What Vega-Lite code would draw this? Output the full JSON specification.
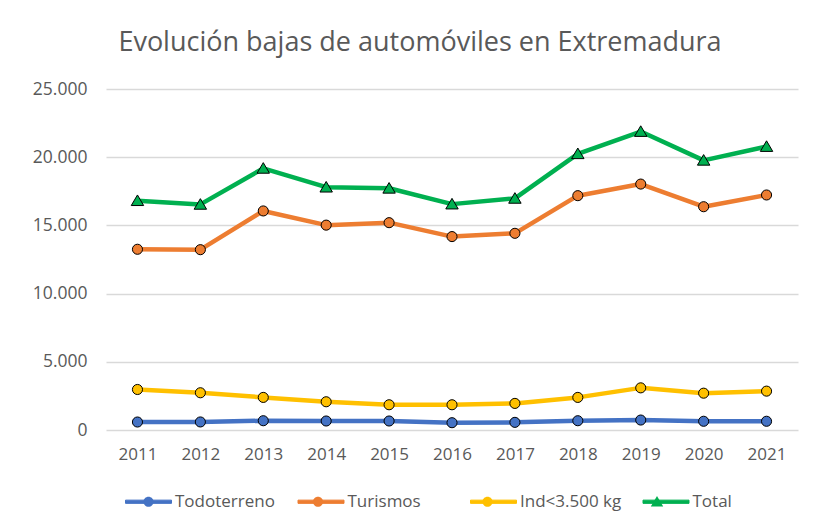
{
  "$schema": "https://vega.github.io/schema/vega-lite/v6.json",
  "width": 692,
  "height": 341,
  "autosize": {"type": "none"},
  "padding": {"left": 106, "top": 89, "right": 29, "bottom": 99},
  "background": "white",
  "title": {
    "text": "Evolución bajas de automóviles en Extremadura",
    "font": "Open Sans",
    "fontSize": 27,
    "fontWeight": 400,
    "color": "#595959",
    "anchor": "middle",
    "frame": "group",
    "dx": -32,
    "offset": 2,
    "baseline": "alphabetic"
  },
  "config": {
    "view": {"stroke": null},
    "axis": {
      "labelFont": "Open Sans",
      "labelFontSize": 17,
      "labelColor": "#595959",
      "title": null
    }
  },
  "data": {
    "values": [
      {"year": "2011", "serie": "Todoterreno", "orden": 1, "v": 585},
      {"year": "2012", "serie": "Todoterreno", "orden": 1, "v": 590},
      {"year": "2013", "serie": "Todoterreno", "orden": 1, "v": 680},
      {"year": "2014", "serie": "Todoterreno", "orden": 1, "v": 660},
      {"year": "2015", "serie": "Todoterreno", "orden": 1, "v": 660},
      {"year": "2016", "serie": "Todoterreno", "orden": 1, "v": 535},
      {"year": "2017", "serie": "Todoterreno", "orden": 1, "v": 560},
      {"year": "2018", "serie": "Todoterreno", "orden": 1, "v": 680},
      {"year": "2019", "serie": "Todoterreno", "orden": 1, "v": 730},
      {"year": "2020", "serie": "Todoterreno", "orden": 1, "v": 640},
      {"year": "2021", "serie": "Todoterreno", "orden": 1, "v": 640},
      {"year": "2011", "serie": "Turismos", "orden": 2, "v": 13250},
      {"year": "2012", "serie": "Turismos", "orden": 2, "v": 13220},
      {"year": "2013", "serie": "Turismos", "orden": 2, "v": 16060},
      {"year": "2014", "serie": "Turismos", "orden": 2, "v": 15020},
      {"year": "2015", "serie": "Turismos", "orden": 2, "v": 15200},
      {"year": "2016", "serie": "Turismos", "orden": 2, "v": 14180},
      {"year": "2017", "serie": "Turismos", "orden": 2, "v": 14420},
      {"year": "2018", "serie": "Turismos", "orden": 2, "v": 17180},
      {"year": "2019", "serie": "Turismos", "orden": 2, "v": 18030},
      {"year": "2020", "serie": "Turismos", "orden": 2, "v": 16370},
      {"year": "2021", "serie": "Turismos", "orden": 2, "v": 17230},
      {"year": "2011", "serie": "Ind<3.500 kg", "orden": 3, "v": 2970},
      {"year": "2012", "serie": "Ind<3.500 kg", "orden": 3, "v": 2730},
      {"year": "2013", "serie": "Ind<3.500 kg", "orden": 3, "v": 2390},
      {"year": "2014", "serie": "Ind<3.500 kg", "orden": 3, "v": 2070},
      {"year": "2015", "serie": "Ind<3.500 kg", "orden": 3, "v": 1850},
      {"year": "2016", "serie": "Ind<3.500 kg", "orden": 3, "v": 1850},
      {"year": "2017", "serie": "Ind<3.500 kg", "orden": 3, "v": 1950},
      {"year": "2018", "serie": "Ind<3.500 kg", "orden": 3, "v": 2390},
      {"year": "2019", "serie": "Ind<3.500 kg", "orden": 3, "v": 3090},
      {"year": "2020", "serie": "Ind<3.500 kg", "orden": 3, "v": 2700},
      {"year": "2021", "serie": "Ind<3.500 kg", "orden": 3, "v": 2850},
      {"year": "2011", "serie": "Total", "orden": 4, "v": 16810},
      {"year": "2012", "serie": "Total", "orden": 4, "v": 16540},
      {"year": "2013", "serie": "Total", "orden": 4, "v": 19180},
      {"year": "2014", "serie": "Total", "orden": 4, "v": 17800},
      {"year": "2015", "serie": "Total", "orden": 4, "v": 17720},
      {"year": "2016", "serie": "Total", "orden": 4, "v": 16560},
      {"year": "2017", "serie": "Total", "orden": 4, "v": 16980},
      {"year": "2018", "serie": "Total", "orden": 4, "v": 20250},
      {"year": "2019", "serie": "Total", "orden": 4, "v": 21880},
      {"year": "2020", "serie": "Total", "orden": 4, "v": 19770},
      {"year": "2021", "serie": "Total", "orden": 4, "v": 20780}
    ]
  },
  "encoding": {
    "x": {
      "field": "year",
      "type": "ordinal",
      "axis": {"labelAngle": 0, "domain": false, "ticks": false, "labelPadding": 16, "grid": false}
    },
    "y": {
      "field": "v",
      "type": "quantitative",
      "scale": {"domain": [0, 25000], "nice": false},
      "axis": {
        "values": [0, 5000, 10000, 15000, 20000, 25000],
        "labelExpr": "replace(format(datum.value, ','), ',', '.')",
        "labelFontSize": 17.5,
        "domain": false,
        "ticks": false,
        "labelPadding": 19,
        "grid": true,
        "gridColor": "#d9d9d9",
        "gridWidth": 1.3
      }
    }
  },
  "layer": [
    {
      "mark": {"type": "line", "strokeWidth": 4.5, "strokeJoin": "round", "strokeCap": "round"},
      "encoding": {
        "color": {
          "field": "serie",
          "type": "nominal",
          "scale": {
            "domain": ["Todoterreno", "Turismos", "Ind<3.500 kg", "Total"],
            "range": ["#4472C4", "#ED7D31", "#FFC000", "#00B050"]
          },
          "legend": {
            "orient": "none",
            "legendX": 19,
            "legendY": 389,
            "direction": "horizontal",
            "gridAlign": "all",
            "title": null,
            "symbolType": "M-1,-0.07H1V0.07H-1Z",
            "symbolSize": 2116,
            "symbolStrokeWidth": 1,
            "symbolOpacity": 1,
            "labelFont": "Open Sans",
            "labelFontSize": 17,
            "labelColor": "#595959",
            "labelOffset": 3,
            "labelLimit": 300,
            "columnPadding": 18.5,
            "encode": {
              "symbols": {
                "update": {
                  "fill": {"scale": "color", "field": "value"},
                  "stroke": {"scale": "color", "field": "value"},
                  "strokeWidth": {"value": 1}
                }
              }
            }
          }
        }
      }
    },
    {
      "mark": {"type": "point", "filled": true, "stroke": "black", "strokeWidth": 1, "size": 2116, "opacity": 1},
      "encoding": {
        "fill": {
          "field": "serie",
          "type": "nominal",
          "sort": {"field": "orden", "op": "min"},
          "scale": {"range": ["#4472C4", "#ED7D31", "#FFC000", "#00B050"]},
          "legend": {
            "orient": "none",
            "legendX": 19,
            "legendY": 389,
            "direction": "horizontal",
            "gridAlign": "all",
            "title": null,
            "symbolSize": 2116,
            "symbolStrokeWidth": 1,
            "symbolStrokeColor": "black",
            "symbolOpacity": 1,
            "labelExpr": "''",
            "labelFont": "Open Sans",
            "labelFontSize": 17,
            "labelOffset": 104,
            "labelLimit": 300,
            "columnPadding": 18.5
          }
        },
        "shape": {
          "field": "serie",
          "type": "nominal",
          "sort": {"field": "orden", "op": "min"},
          "scale": {
            "range": [
              "M0.22,0A0.22,0.22 0 1,1 -0.22,0A0.22,0.22 0 1,1 0.22,0Z",
              "M0.22,0A0.22,0.22 0 1,1 -0.22,0A0.22,0.22 0 1,1 0.22,0Z",
              "M0.22,0A0.22,0.22 0 1,1 -0.22,0A0.22,0.22 0 1,1 0.22,0Z",
              "M0,-0.25L0.27,0.21L-0.27,0.21Z"
            ]
          },
          "legend": {
            "orient": "none",
            "legendX": 19,
            "legendY": 389,
            "direction": "horizontal",
            "gridAlign": "all",
            "title": null,
            "symbolSize": 2116,
            "symbolStrokeWidth": 1,
            "symbolStrokeColor": "black",
            "symbolOpacity": 1,
            "labelExpr": "''",
            "labelFont": "Open Sans",
            "labelFontSize": 17,
            "labelOffset": 104,
            "labelLimit": 300,
            "columnPadding": 18.5
          }
        }
      }
    }
  ]
}
